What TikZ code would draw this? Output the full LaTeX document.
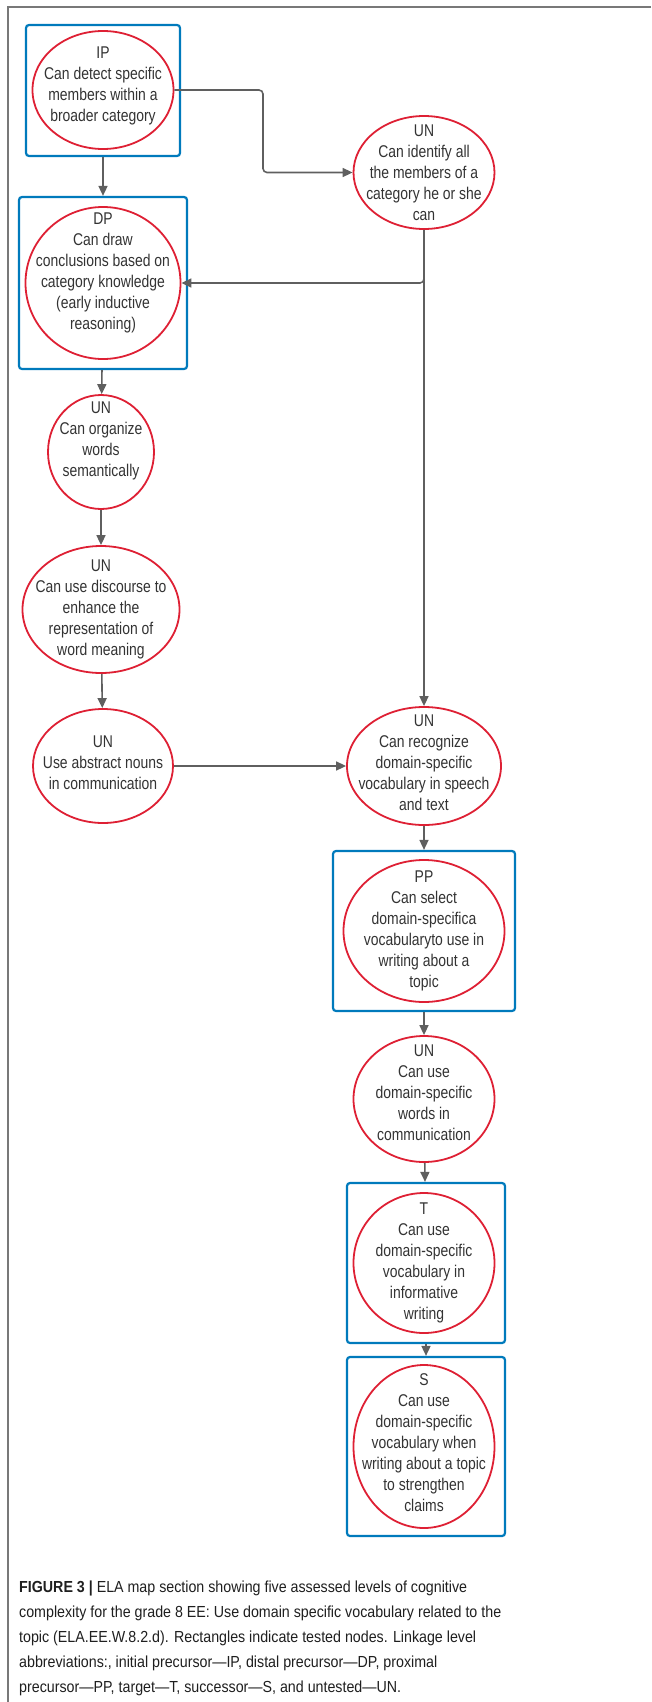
\documentclass[tikz,border=0pt]{standalone}
\usepackage{fontspec}
\setmainfont{Liberation Sans}
\newfontfamily\narrowfont{Liberation Sans}[FakeStretch=0.82]
\newfontfamily\capfont{Liberation Sans}[FakeStretch=0.89]
\usetikzlibrary{shapes.geometric,arrows.meta}
\definecolor{testblue}{RGB}{0,122,188}
\definecolor{nodered}{RGB}{222,32,52}
\definecolor{arrowgray}{RGB}{95,95,95}
\definecolor{framegray}{RGB}{120,120,120}
\definecolor{textgray}{RGB}{51,51,51}
\begin{document}
\begin{tikzpicture}[x=1pt,y=-1pt,
    skilltext/.style={inner sep=0pt,align=center,text=textgray,font=\narrowfont\fontsize{17}{21}\selectfont},
    skill/.style 2 args={ellipse,draw=nodered,line width=1.8pt,inner sep=0pt,label={[skilltext,yshift=#2]center:{#1}}},
    tested/.style={rectangle,draw=testblue,line width=2.2pt,rounded corners=3pt,inner sep=0pt},
    link/.style={draw=arrowgray,line width=1.6pt,-{Triangle[length=10pt,width=9pt]}}]
            \useasboundingbox (0,0) rectangle (651,1702);
            \draw[framegray,line width=1.5pt] (651,7) -- (8,7) -- (8,1702);
            % tested nodes
            \node(ipbox)[tested,minimum width=154pt,minimum height=131pt] at (103,90.5){};
            \node(dpbox)[tested,minimum width=168pt,minimum height=172pt] at (103,283){};
            \node(ppbox)[tested,minimum width=182pt,minimum height=160pt] at (424,931){};
            \node(tbox)[tested,minimum width=158pt,minimum height=160pt] at (426,1263){};
            \node(sbox)[tested,minimum width=158pt,minimum height=179pt] at (426,1446.5){};
            % skills
            \node(ip)[skill={IP\\Can detect specific\\members within a\\broader category}{4pt},minimum width=141pt,minimum height=118pt] at (103,90){};
            \node(dp)[skill={DP\\Can draw\\conclusions based on\\category knowledge\\(early inductive\\reasoning)}{10pt},minimum width=155pt,minimum height=152pt] at (103,283){};
            \node(un1)[skill={UN\\Can identify all\\the members of a\\category he or she\\can}{0pt},minimum width=141pt,minimum height=113pt] at (424,172.5){};
            \node(un2)[skill={UN\\Can organize\\words\\semantically}{11pt},minimum width=106pt,minimum height=114pt] at (101,452){};
            \node(un3)[skill={UN\\Can use discourse to\\enhance the\\representation of\\word meaning}{0pt},minimum width=157pt,minimum height=127pt] at (101,609.5){};
            \node(un4)[skill={UN\\Use abstract nouns\\in communication}{3pt},minimum width=140pt,minimum height=114pt] at (103,766){};
            \node(un5)[skill={UN\\Can recognize\\domain-specific\\vocabulary in speech\\and text}{3pt},minimum width=154pt,minimum height=118pt] at (424,766){};
            \node(pp)[skill={PP\\Can select\\domain-specifica\\vocabularyto use in\\writing about a\\topic}{0pt},minimum width=161pt,minimum height=142pt] at (424,931){};
            \node(un6)[skill={UN\\Can use\\domain-specific\\words in\\communication}{6pt},minimum width=141pt,minimum height=126pt] at (424,1099){};
            \node(t)[skill={T\\Can use\\domain-specific\\vocabulary in\\informative\\writing}{0pt},minimum width=141pt,minimum height=140pt] at (424,1263){};
            \node(s)[skill={S\\Can use\\domain-specific\\vocabulary when\\writing about a topic\\to strengthen\\claims}{4pt},minimum width=141pt,minimum height=163pt] at (424,1446.5){};
            % links
            \draw[link] (ipbox) -- (dpbox);
            \draw[link,rounded corners=4pt] (ip.east) -- (263,90) |- (un1.west);
            \draw[link] (un1) -- (un5);
            \draw[link,rounded corners=4pt] (un1.south) |- (dp.east);
            \draw[link] (dpbox) -- (un2);
            \draw[link] (un2) -- (un3);
            \draw[link] (un3) -- (un4);
            \draw[link] (un4) -- (un5);
            \draw[link] (un5) -- (ppbox);
            \draw[link] (ppbox) -- (un6);
            \draw[link] (un6) -- (tbox);
            \draw[link] (tbox) -- (sbox);
            % caption
            \node(caption)[anchor=north west,align=left,inner sep=0pt,text=black!88,
                font=\capfont\fontsize{16}{25}\selectfont] at (19,1581){\textbf{FIGURE 3 |} ELA map section showing five assessed levels of cognitive\\complexity for the grade 8 EE: Use domain specific vocabulary related to the\\topic (ELA.EE.W.8.2.d). Rectangles indicate tested nodes. Linkage level\\abbreviations:, initial precursor—IP, distal precursor—DP, proximal\\precursor—PP, target—T, successor—S, and untested—UN.};
        \end{tikzpicture}
\end{document}
